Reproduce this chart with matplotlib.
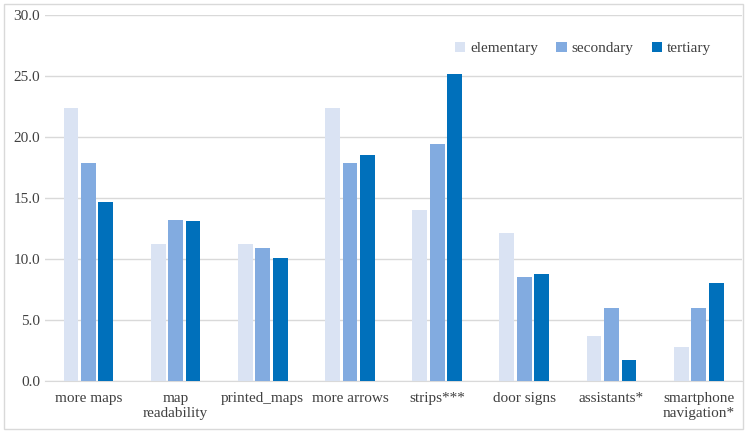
import numpy as np
import matplotlib.pyplot as plt
from matplotlib.patches import Rectangle

categories = ["more maps", "map\nreadability", "printed_maps", "more arrows",
              "strips***", "door signs", "assistants*", "smartphone\nnavigation*"]
elementary = [22.4, 11.2, 11.2, 22.4, 14.0, 12.1, 3.7, 2.8]
secondary = [17.9, 13.2, 10.9, 17.9, 19.4, 8.5, 6.0, 6.0]
tertiary = [14.7, 13.1, 10.1, 18.5, 25.2, 8.8, 1.7, 8.0]

series = [("elementary", elementary, "#DAE3F3"),
          ("secondary", secondary, "#82ABE0"),
          ("tertiary", tertiary, "#0070BB")]

plt.rcParams['font.family'] = ['Liberation Serif', 'DejaVu Serif']

fig = plt.figure(figsize=(7.46, 4.33), dpi=100)
ax = fig.add_axes([0.06, 0.12, 0.935, 0.845])

x = np.arange(len(categories))
w = 0.17
for i, (name, vals, col) in enumerate(series):
    ax.bar(x + (i - 1) * 0.2, vals, w, color=col, label=name, zorder=3)

ax.set_ylim(0, 30)
ax.set_xlim(-0.5, len(categories) - 0.5)
ax.set_yticks(np.arange(0, 30.1, 5))
ax.set_yticklabels([f"{v:.1f}" for v in np.arange(0, 30.1, 5)])
ax.set_xticks(x)
ax.set_xticklabels(categories)
ax.tick_params(length=0, labelsize=11, colors="#404040")
ax.tick_params(axis='x', pad=8)
ax.grid(axis='y', color="#D9D9D9", linewidth=1, zorder=0)
for s in ["top", "right", "left"]:
    ax.spines[s].set_visible(False)
ax.spines["bottom"].set_color("#D9D9D9")

ax.legend(loc="upper right", bbox_to_anchor=(0.975, 0.965), ncol=3, frameon=False,
          fontsize=11, handlelength=0.7, handleheight=0.7, handletextpad=0.3,
          columnspacing=1.2, labelcolor="#404040")

fig.patches.append(Rectangle((0.006, 0.01), 0.99, 0.98, transform=fig.transFigure,
                             fill=False, edgecolor="#D9D9D9", linewidth=1))

fig.savefig("out.png", dpi=100)
